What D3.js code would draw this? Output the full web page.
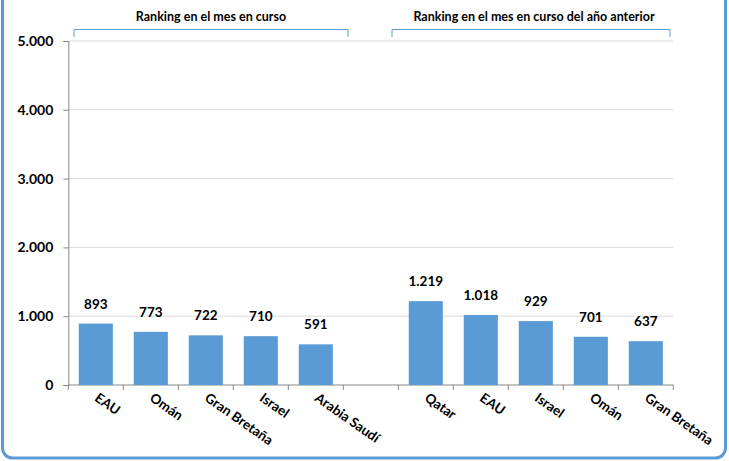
<!DOCTYPE html>
<html><head><meta charset="utf-8">
<script src="https://cdn.jsdelivr.net/npm/d3@7"></script>
<style>body{margin:0;background:#fff;}svg{display:block;font-family:Lato,"Open Sans",sans-serif;}</style>
</head><body><svg id="c" width="729" height="461"></svg>
<script>
const categories = ["EAU","Omán","Gran Bretaña","Israel","Arabia Saudí","","Qatar","EAU","Israel","Omán","Gran Bretaña"];
const values = [893,773,722,710,591,null,1219,1018,929,701,637];
const yTicks = [0,1000,2000,3000,4000,5000];
const groupTitles = ["Ranking en el mes en curso","Ranking en el mes en curso del año anterior"];
const groupRanges = [[0,4],[6,10]];

const svg = d3.select("#c");
svg.append("rect").attr("x",2.5).attr("y",-20).attr("width",723).attr("height",478)
  .attr("rx",10).attr("fill","none").attr("stroke","#5b9bd5").attr("stroke-width",3);

const x = d3.scaleBand().domain(d3.range(categories.length)).range([68.3,673.3]).paddingInner(0.38).paddingOuter(0.19);
const y = d3.scaleLinear().domain([0,5000]).range([385,41]);
const fmt = v => d3.format(",")(v).replace(/,/g,".");

// gridlines
svg.append("g").selectAll("line").data(yTicks.filter(t=>t>0)).join("line")
  .attr("x1",68.3).attr("x2",673).attr("y1",d=>y(d)).attr("y2",d=>y(d))
  .attr("stroke","#d9d9d9").attr("stroke-width",1);

// y axis
const ya = svg.append("g").attr("transform","translate(68.3,0)")
  .call(d3.axisLeft(y).tickValues(yTicks).tickFormat(fmt).tickSize(5).tickPadding(10));
ya.select(".domain").attr("stroke","#868686");
ya.selectAll(".tick line").attr("stroke","#868686");
ya.selectAll("text").attr("font-size",14).attr("font-weight","bold").attr("fill","#000").attr("font-family","Lato,sans-serif");

// x axis line and ticks
const step = x.step();
svg.append("line").attr("x1",68.3).attr("x2",673.3).attr("y1",385).attr("y2",385).attr("stroke","#868686");
svg.append("g").selectAll("line").data(d3.range(categories.length+1)).join("line")
  .attr("x1",d=>68.3+d*step).attr("x2",d=>68.3+d*step).attr("y1",385).attr("y2",390).attr("stroke","#868686");

// bars
const data = categories.map((c,i)=>({c,i,v:values[i]})).filter(d=>d.v!=null);
svg.append("g").selectAll("rect").data(data).join("rect")
  .attr("x",d=>x(d.i)).attr("width",x.bandwidth()).attr("y",d=>y(d.v)).attr("height",d=>y(0)-y(d.v))
  .attr("fill","#5b9bd5");

// value labels
svg.append("g").selectAll("text").data(data).join("text")
  .attr("x",d=>x(d.i)+x.bandwidth()/2).attr("y",d=>y(d.v)-15)
  .attr("text-anchor","middle").attr("font-size",13.5).attr("font-weight","bold").text(d=>fmt(d.v));

// category labels
svg.append("g").selectAll("text").data(categories.map((c,i)=>({c,i})).filter(d=>d.c)).join("text")
  .attr("transform",d=>`translate(${x(d.i)+x.bandwidth()/2-2},${400}) rotate(35)`)
  .attr("font-size",13.5).attr("font-weight","bold").text(d=>d.c);

// group brackets
groupRanges.forEach((r,k)=>{
  const xs = k===0 ? [74,348] : [392,670];
  svg.append("path").attr("d",`M${xs[0]},37V29.5H${xs[1]}V37`).attr("fill","none").attr("stroke","#5b9bd5").attr("stroke-width",1);
  svg.append("text").attr("x",(xs[0]+xs[1])/2 + (k===1?3:0)).attr("y",21).attr("text-anchor","middle")
    .attr("font-size",12.5).attr("font-weight","bold").text(groupTitles[k]);
});
</script></body></html>
